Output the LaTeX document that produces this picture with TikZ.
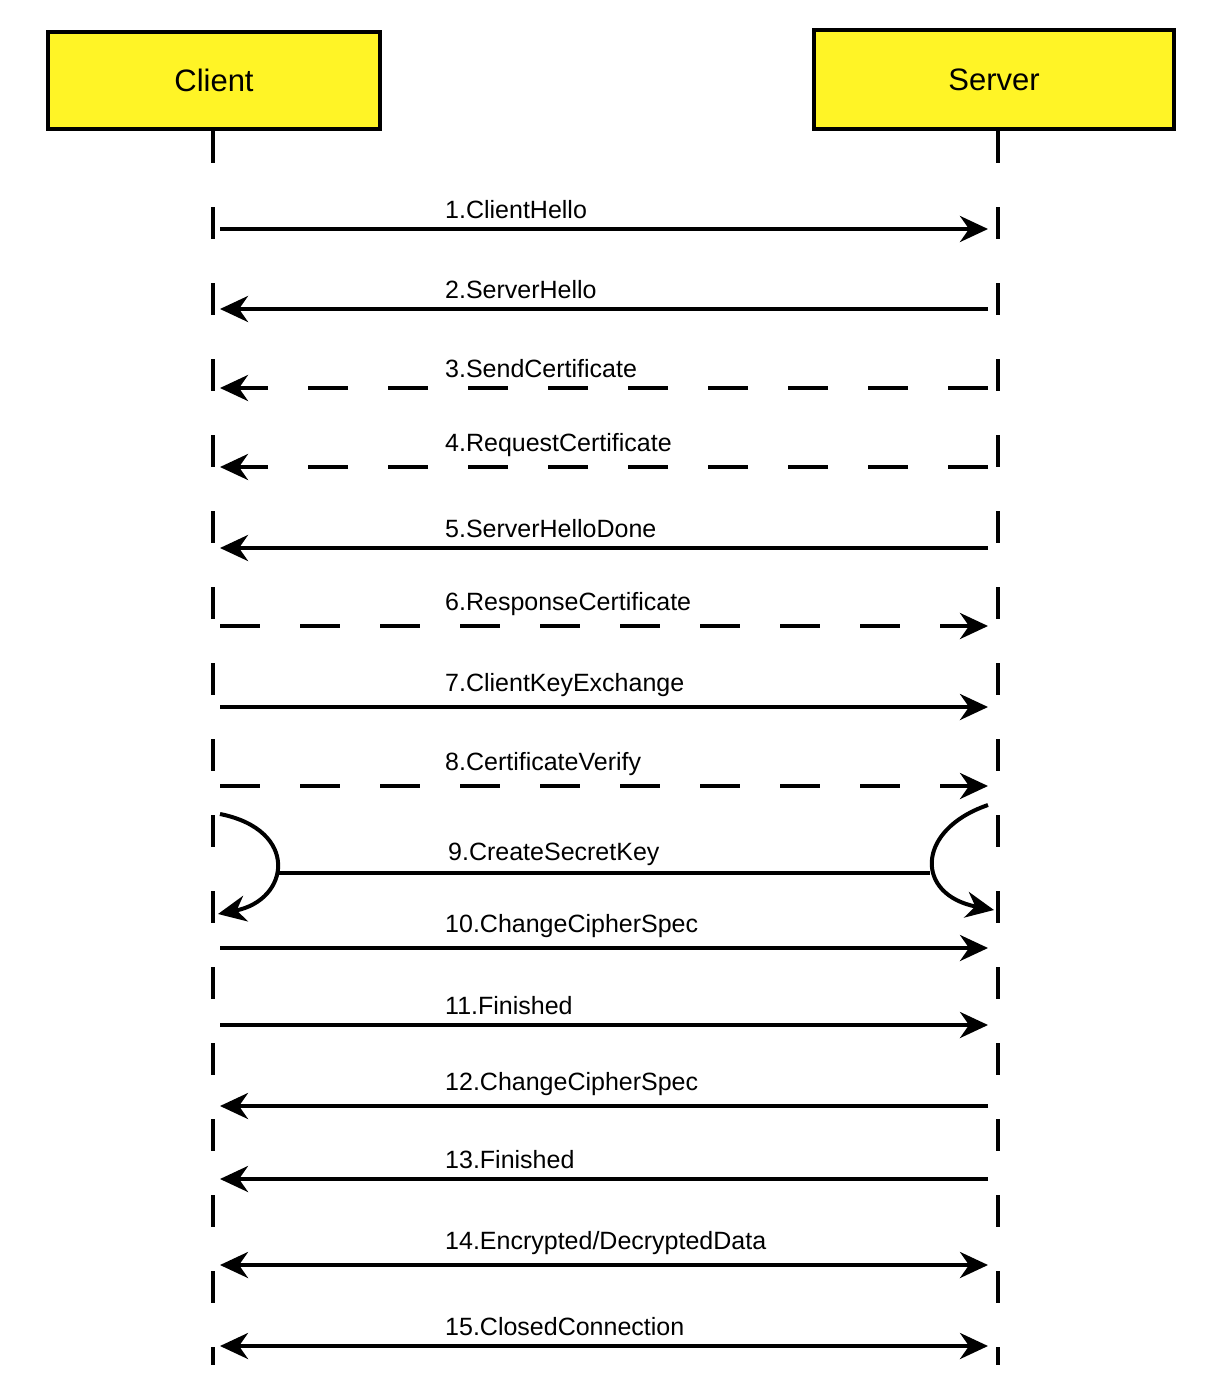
\documentclass[tikz,border=0pt]{standalone}
\usepackage{fontspec}
\setmainfont{Liberation Sans}
\usetikzlibrary{arrows.meta}
\begin{document}
\begin{tikzpicture}[x=1pt,y=-1pt,
  tip/.tip={Stealth[length=28pt,width=26pt,inset=9pt]},
  actor/.style={draw=black,line width=4.5pt,fill=yellow!85!white,font=\fontsize{31}{35}\selectfont},
  life/.style={line width=4pt,dash pattern=on 32pt off 44pt},
  msg/.style={line width=4pt,-tip},
  msgb/.style={line width=4pt,tip-tip},
  dsh/.style={dash pattern=on 40pt off 40pt},
  lbl/.style={font=\fontsize{25}{28}\selectfont,anchor=south west,inner sep=0pt}]
\useasboundingbox (0,0) rectangle (1230,1394);
\node[actor,minimum width=332pt,minimum height=97pt] (client) at (214,80.5) {Client};
\node[actor,minimum width=360pt,minimum height=99pt] (server) at (994,79.5) {Server};
\coordinate (cb) at (213,1365);
\coordinate (sb) at (998,1365);
\draw[life] (213,131) -- (cb);
\draw[life] (998,131) -- (sb);
\foreach \i/\y/\t/\d/\s in {
 1/229/{1.ClientHello}/r/s,
 2/309/{2.ServerHello}/l/s,
 3/388/{3.SendCertificate}/l/d,
 4/467/{4.RequestCertificate}/l/d,
 5/548/{5.ServerHelloDone}/l/s,
 6/626/{6.ResponseCertificate}/r/d,
 7/707/{7.ClientKeyExchange}/r/s,
 8/786/{8.CertificateVerify}/r/d,
 10/948/{10.ChangeCipherSpec}/r/s,
 11/1025/{11.Finished}/r/s,
 12/1106/{12.ChangeCipherSpec}/l/s,
 13/1179/{13.Finished}/l/s,
 14/1265/{14.Encrypted/DecryptedData}/b/s,
 15/1346/{15.ClosedConnection}/b/s}{
  \coordinate (a\i) at (220,\y);
  \coordinate (b\i) at (988,\y);
  \node[lbl] (t\i) at (445,\y-10) {\t};
  \if\d r
    \if\s d \draw[msg,dsh] (a\i) -- (b\i); \else \draw[msg] (a\i) -- (b\i); \fi
  \fi
  \if\d l
    \if\s d \draw[msg,dsh] (b\i) -- (a\i); \else \draw[msg] (b\i) -- (a\i); \fi
  \fi
  \if\d b \draw[msgb] (a\i) -- (b\i); \fi
}
% 9 CreateSecretKey
\coordinate (k1) at (278,873);
\coordinate (k2) at (930,873);
\coordinate (lc0) at (220,814);
\coordinate (lc1) at (218,914);
\coordinate (rc0) at (988,805);
\coordinate (rc1) at (994,910);
\node[lbl] (t9) at (448,866) {9.CreateSecretKey};
\draw[line width=4pt] (k1) -- (k2);
\draw[line width=4pt,-tip] (lc0) .. controls (300,830) and (290,900) .. (lc1);
\draw[line width=4pt,-tip] (rc0) .. controls (915,830) and (915,895) .. (rc1);
\end{tikzpicture}
\end{document}
